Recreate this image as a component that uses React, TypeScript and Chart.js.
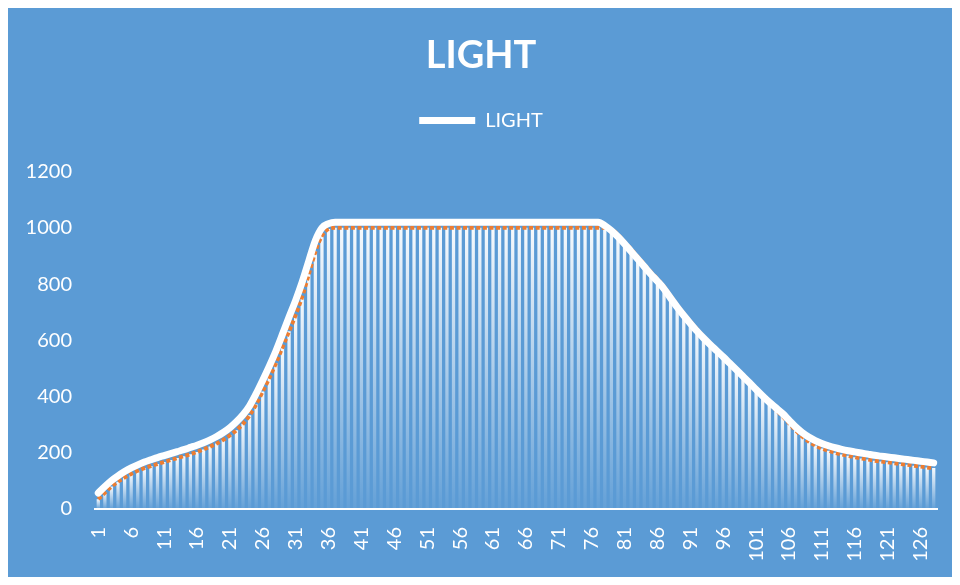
import { useEffect, useRef } from 'react';
import { Chart, registerables } from 'chart.js';

Chart.register(...registerables);

const categories: string[] = Array.from({ length: 128 }, (_, i) => String(i + 1));

// White smoothed "LIGHT" line
const lightValues: number[] = [
  57, 80, 101, 118, 133, 146, 157, 167, 175, 183,
  190, 197, 204, 211, 219, 227, 236, 246, 258, 272,
  289, 310, 335, 367, 410, 458, 508, 562, 622, 683,
  742, 808, 882, 955, 1000, 1015, 1020, 1020, 1020, 1020,
  1020, 1020, 1020, 1020, 1020, 1020, 1020, 1020, 1020, 1020,
  1020, 1020, 1020, 1020, 1020, 1020, 1020, 1020, 1020, 1020,
  1020, 1020, 1020, 1020, 1020, 1020, 1020, 1020, 1020, 1020,
  1020, 1020, 1020, 1020, 1020, 1020, 1020, 1008, 990, 968,
  943, 916, 889, 862, 835, 810, 783, 750, 718, 688,
  660, 633, 608, 585, 563, 541, 518, 495, 472, 449,
  425, 402, 380, 360, 340, 316, 292, 272, 256, 243,
  233, 225, 218, 212, 207, 203, 199, 195, 191, 188,
  185, 182, 179, 176, 173, 170, 167, 164,
];

// Orange dashed line and gradient drop bars
const dropValues: number[] = [
  35, 58, 80, 97, 112, 125, 136, 145, 153, 160,
  167, 174, 181, 188, 195, 203, 212, 222, 233, 246,
  262, 280, 303, 333, 372, 418, 466, 518, 575, 632,
  690, 755, 835, 915, 972, 996, 1000, 1000, 1000, 1000,
  1000, 1000, 1000, 1000, 1000, 1000, 1000, 1000, 1000, 1000,
  1000, 1000, 1000, 1000, 1000, 1000, 1000, 1000, 1000, 1000,
  1000, 1000, 1000, 1000, 1000, 1000, 1000, 1000, 1000, 1000,
  1000, 1000, 1000, 1000, 1000, 1000, 1000, 1000, 995, 975,
  950, 924, 897, 870, 843, 818, 791, 758, 726, 695,
  667, 640, 614, 590, 567, 545, 522, 498, 474, 450,
  425, 400, 376, 353, 330, 305, 280, 258, 240, 226,
  215, 207, 200, 194, 189, 184, 180, 176, 172, 169,
  166, 163, 160, 157, 154, 151, 148, 146,
];

const yTicks: number[] = [0, 200, 400, 600, 800, 1000, 1200];

const FONT = 'Lato, "Open Sans", sans-serif';

const bgPlugin = {
  id: 'bgFill',
  beforeDraw(chart: any) {
    const c = chart.ctx;
    c.save();
    c.fillStyle = '#5B9BD5';
    c.fillRect(0, 0, chart.width, chart.height);
    c.restore();
  },
};

const legendSpacer = {
  id: 'legendSpacer',
  beforeInit(chart: any) {
    const legend = chart.legend;
    if (!legend) return;
    const origFit = legend.fit;
    legend.fit = function () {
      origFit.call(this);
      this.height += 31;
    };
  },
};

export default function App() {
  const ref = useRef<HTMLCanvasElement | null>(null);

  useEffect(() => {
    if (!ref.current) return;
    const chart = new Chart(ref.current, {
      type: 'bar',
      data: {
        labels: categories,
        datasets: [
          {
            type: 'line',
            label: 'LIGHT',
            data: lightValues,
            borderColor: '#FFFFFF',
            backgroundColor: '#FFFFFF',
            borderWidth: 7,
            borderCapStyle: 'round',
            borderJoinStyle: 'round',
            pointRadius: 0,
            pointStyle: 'line',
            cubicInterpolationMode: 'monotone',
            order: 0,
          } as any,
          {
            type: 'line',
            label: 'drop',
            data: dropValues,
            borderColor: '#ED7D31',
            borderWidth: 4,
            borderDash: [4, 2.6],
            pointRadius: 0,
            cubicInterpolationMode: 'monotone',
            order: 1,
          } as any,
          {
            type: 'bar',
            label: 'bars',
            data: dropValues,
            barPercentage: 0.5,
            categoryPercentage: 1,
            order: 2,
            backgroundColor: (ctx: any) => {
              const ch = ctx.chart;
              if (!ch.chartArea || ctx.type !== 'data') return 'rgba(255,255,255,0.5)';
              const ys = ch.scales.y;
              const v = ctx.raw as number;
              const top = ys.getPixelForValue(v);
              const bottom = ys.getPixelForValue(0);
              if (!isFinite(top) || !isFinite(bottom) || bottom - top < 1) return 'rgba(255,255,255,0.5)';
              const g = ch.ctx.createLinearGradient(0, top, 0, bottom);
              g.addColorStop(0, 'rgba(255,255,255,0.95)');
              g.addColorStop(1, 'rgba(255,255,255,0.05)');
              return g;
            },
          } as any,
        ],
      },
      options: {
        responsive: true,
        maintainAspectRatio: false,
        animation: false,
        layout: { padding: { left: 17, right: 15, top: 0, bottom: 0 } },
        plugins: {
          tooltip: { enabled: false },
          title: {
            display: true,
            text: 'LIGHT',
            color: '#FFFFFF',
            font: { family: FONT, size: 38, weight: 'bold' },
            padding: { top: 25, bottom: 22 },
          },
          legend: {
            display: true,
            position: 'top',
            labels: {
              color: '#FFFFFF',
              font: { family: FONT, size: 20 },
              usePointStyle: true,
              pointStyleWidth: 56,
              filter: (item: any) => item.datasetIndex === 0,
              padding: 10,
            },
          },
        },
        scales: {
          x: {
            type: 'category',
            offset: true,
            grid: { display: false, drawTicks: false },
            border: { display: true, color: '#FFFFFF', width: 2 },
            afterFit: (s: any) => {
              s.paddingLeft = 0;
              s.paddingRight = 0;
              s.height = 68;
            },
            ticks: {
              color: '#FFFFFF',
              font: { family: FONT, size: 20 },
              autoSkip: false,
              maxRotation: 90,
              minRotation: 90,
              padding: 18,
              callback: (_v: any, i: number) => (i % 5 === 0 ? categories[i] : ''),
            },
          },
          y: {
            min: yTicks[0],
            max: yTicks[yTicks.length - 1],
            grid: { display: false, drawTicks: false },
            border: { display: false },
            afterFit: (s: any) => {
              s.width = 70;
            },
            ticks: {
              stepSize: 200,
              color: '#FFFFFF',
              font: { family: FONT, size: 20 },
              padding: 23,
              callback: (v: any) => String(v),
            },
          },
        },
      },
      plugins: [bgPlugin, legendSpacer],
    });
    return () => chart.destroy();
  }, []);

  return (
    <div style={{ width: 944, height: 569, position: 'relative' }}>
      <canvas ref={ref} />
    </div>
  );
}
